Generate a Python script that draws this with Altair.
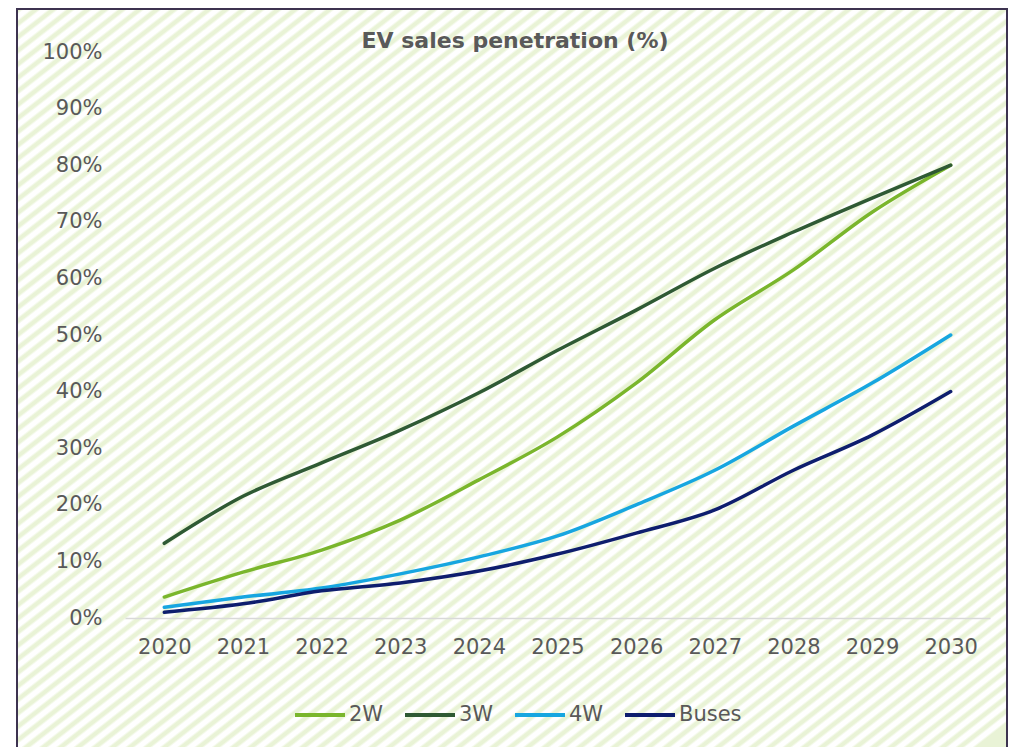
import altair as alt
import pandas as pd

years = ["2020", "2021", "2022", "2023", "2024", "2025", "2026", "2027", "2028", "2029", "2030"]
series_names = ["2W", "3W", "4W", "Buses"]
v_2w = [3.7, 8.1, 12.0, 17.3, 24.4, 32.0, 41.5, 52.7, 61.5, 71.7, 80.0]
v_3w = [13.2, 21.5, 27.4, 33.2, 39.8, 47.3, 54.4, 61.8, 68.2, 74.2, 80.0]
v_4w = [1.9, 3.7, 5.3, 7.8, 10.8, 14.5, 20.0, 26.1, 33.9, 41.5, 50.0]
v_bus = [1.0, 2.5, 4.8, 6.2, 8.3, 11.3, 15.0, 19.1, 26.1, 32.3, 40.0]
colors = ["#7ab62c", "#2f5a34", "#17a6e0", "#0e1e6e"]
title_text = ["EV sales penetration (%)"]

rows = []
for name, vals in zip(series_names, [v_2w, v_3w, v_4w, v_bus]):
    for y, v in zip(years, vals):
        rows.append({"year": y, "series": name, "value": v / 100.0})
df = pd.DataFrame(rows)

# striped background gradient (style only)
stripe = "#e9f3d6"
white = "#ffffff"
N = 110
stops = []
for k in range(N):
    base = k / N
    stops.append(alt.GradientStop(offset=base, color=stripe))
    stops.append(alt.GradientStop(offset=base + 0.25 / N, color=stripe))
    stops.append(alt.GradientStop(offset=base + 0.45 / N, color=white))
    stops.append(alt.GradientStop(offset=base + 0.8 / N, color=white))
stops.append(alt.GradientStop(offset=1.0, color=stripe))

bg = alt.Chart(pd.DataFrame({"a": [0]})).mark_rect(
    fill=alt.Gradient(gradient="linear", stops=stops, x1=0, y1=0, x2=1, y2=0.96),
    stroke="#3d3350",
    strokeWidth=2,
).encode(
    x=alt.value(-108), x2=alt.value(882), y=alt.value(-43), y2=alt.value(700)
)

font = "DejaVu Sans"
gray = "#595959"

title = alt.Chart(pd.DataFrame({"t": title_text})).mark_text(
    font=font, fontSize=22, fontWeight="bold", color=gray,
    align="center", baseline="alphabetic",
).encode(text="t:N", x=alt.value(390), y=alt.value(-4))

lines = alt.Chart(df).mark_line(
    strokeWidth=3.5, interpolate="monotone", strokeCap="round"
).encode(
    x=alt.X("year:O", sort=years,
            scale=alt.Scale(type="point", padding=0.5),
            axis=alt.Axis(title=None, labelAngle=0, ticks=False, tickSize=0,
                          domainColor="#d9d9d9", domainWidth=1.5,
                          labelFont=font, labelFontSize=21, labelColor=gray,
                          labelPadding=18, grid=False, zindex=1)),
    y=alt.Y("value:Q",
            scale=alt.Scale(domain=[0, 1]),
            axis=alt.Axis(title=None, format=".0%", values=[i / 10 for i in range(11)],
                          ticks=False, tickSize=0, domain=False, grid=False,
                          labelFont=font, labelFontSize=21, labelColor=gray,
                          labelPadding=23, zindex=1)),
    color=alt.Color("series:N",
                    scale=alt.Scale(domain=series_names, range=colors),
                    legend=alt.Legend(title=None, orient="none", legendX=168, legendY=636,
                                      direction="horizontal", symbolType="stroke",
                                      symbolStrokeWidth=4, symbolSize=2500,
                                      labelFont=font, labelFontSize=21, labelColor=gray,
                                      labelOffset=2, columnPadding=13, zindex=1)),
)

chart = alt.layer(bg, title, lines).properties(
    width=865,
    height=566,
    padding={"left": 117, "top": 44, "right": 18, "bottom": 129},
    autosize=alt.AutoSizeParams(type="none"),
).configure_view(stroke=None).configure(background="white")

chart.save("out.html", embed_options={"renderer": "svg", "actions": False})
